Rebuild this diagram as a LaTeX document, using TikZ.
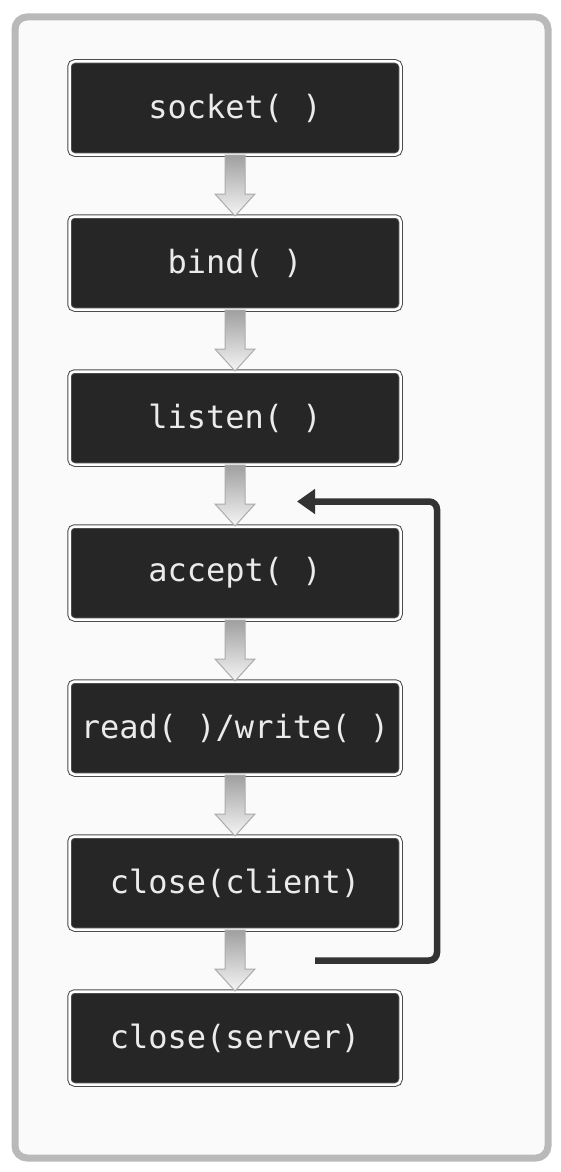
\documentclass[tikz,border=0pt]{standalone}
\usepackage{fontspec}
\newfontfamily\codefont{DejaVu Sans Mono}
\usetikzlibrary{positioning,arrows.meta,calc}

\begin{document}
\begin{tikzpicture}[x=1pt,y=-1pt,node distance=61pt,
every node/.style={font=\codefont\fontsize{32}{38}\selectfont},
call/.style={rectangle,rounded corners=5pt,fill=black!85,text=white!92!black,draw=gray!60!black,double=white,double distance=2.5pt,line width=1pt,minimum width=331pt,minimum height=93pt},
flow/.style={draw=gray!65,line width=1pt,top color=gray!75,bottom color=gray!8},
loop/.style={draw=gray!40!black,line width=6.5pt,rounded corners=8pt,-{Triangle[length=18pt,width=24pt]}}]

\useasboundingbox (0,0) rectangle (561,1172);
\draw[draw=gray!55,line width=7pt,rounded corners=12pt,fill=gray!4] (15,17) rectangle (548,1158);

\node[call] (socket) at (235,108) {socket( )};
\node[call,below=of socket] (bind) {bind( )};
\node[call,below=of bind] (listen) {listen( )};
\node[call,below=of listen] (accept) {accept( )};
\node[call,below=of accept] (rw) {read( )/write( )};
\node[call,below=of rw] (cclient) {close(client)};
\node[call,below=of cclient] (cserver) {close(server)};

\foreach \a/\b in {socket/bind,bind/listen,listen/accept,accept/rw,rw/cclient,cclient/cserver}{
\path[flow] ([xshift=-10pt]\a.south) -- ([xshift=-10pt,yshift=22pt]\b.north) -- ([xshift=-20pt,yshift=22pt]\b.north) -- (\b.north) -- ([xshift=20pt,yshift=22pt]\b.north) -- ([xshift=10pt,yshift=22pt]\b.north) -- ([xshift=10pt]\a.south) -- cycle;}

% back to accept
\coordinate (back) at ($(cclient.south)!.5!(cserver.north)+(80,0)$);
\coordinate (again) at ($(listen.south)!.5!(accept.north)+(62,6)$);
\draw[loop] (back) -- ++(122,0) |- (again);

\end{tikzpicture}
\end{document}
